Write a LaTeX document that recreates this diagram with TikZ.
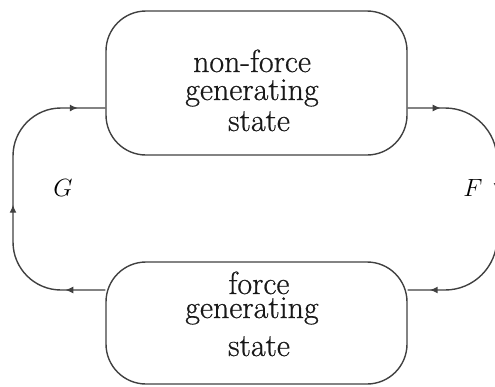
\documentclass[tikz,border=0pt]{standalone}
\usepackage{fontspec}
\newfontfamily\labelfont{Latin Modern Roman}[FakeBold=0.6]
\usetikzlibrary{arrows.meta,decorations.markings}
\definecolor{ink}{HTML}{404040}
\begin{document}
\begin{tikzpicture}[x=1pt,y=-1pt,
  statebox/.style={draw=ink, line width=1.4pt, rounded corners=40pt, minimum width=301pt, inner sep=0pt},
  lbl/.style={anchor=base, inner sep=0pt, font=\labelfont\fontsize{32}{32}\selectfont, text=black!90},
  flow/.style={draw=ink, line width=1.4pt},
  tipmark/.style={decoration={markings,
    mark=at position #1 with {\arrow[ink]{Latex[length=8pt,width=7pt]}}}, decorate},
]
\useasboundingbox (0,0) rectangle (495,386);
\node[statebox, minimum height=144pt] (top) at (256.5,83) {};
\node[statebox, minimum height=122pt] (bot) at (256.5,323) {};
% texts
\node[lbl] (t1) at (252,72) {non-force};
\node[lbl] (t2) at (252,100) {generating};
\node[lbl] (t3) at (259,131) {state};
\node[lbl] (b1) at (259,294) {force};
\node[lbl] (b2) at (252,318) {generating};
\node[lbl] (b3) at (259,356) {state};
% loop coordinates
\coordinate (gb) at (13,290);
\coordinate (gt) at (13,108);
\coordinate (ft) at (497,108);
\coordinate (fb) at (497,290);
% G loop: bottom -> top
\draw[flow, rounded corners=48pt,
  postaction={tipmark=40pt}, postaction={tipmark=157pt}, postaction={tipmark=298pt}]
  (bot.west |- gb) -- (gb) -- (gt) -- (top.west |- gt);
% F loop: top -> bottom
\draw[flow, rounded corners=52pt,
  postaction={tipmark=33pt}, postaction={tipmark=150pt}, postaction={tipmark=294pt}]
  (top.east |- ft) -- (ft) -- (fb) -- (bot.east |- fb);
\node[font=\fontsize{29}{29}\selectfont] (G) at (63,188) {$G$};
\node[font=\fontsize{29}{29}\selectfont] (F) at (473,188) {$F$};
\end{tikzpicture}
\end{document}
